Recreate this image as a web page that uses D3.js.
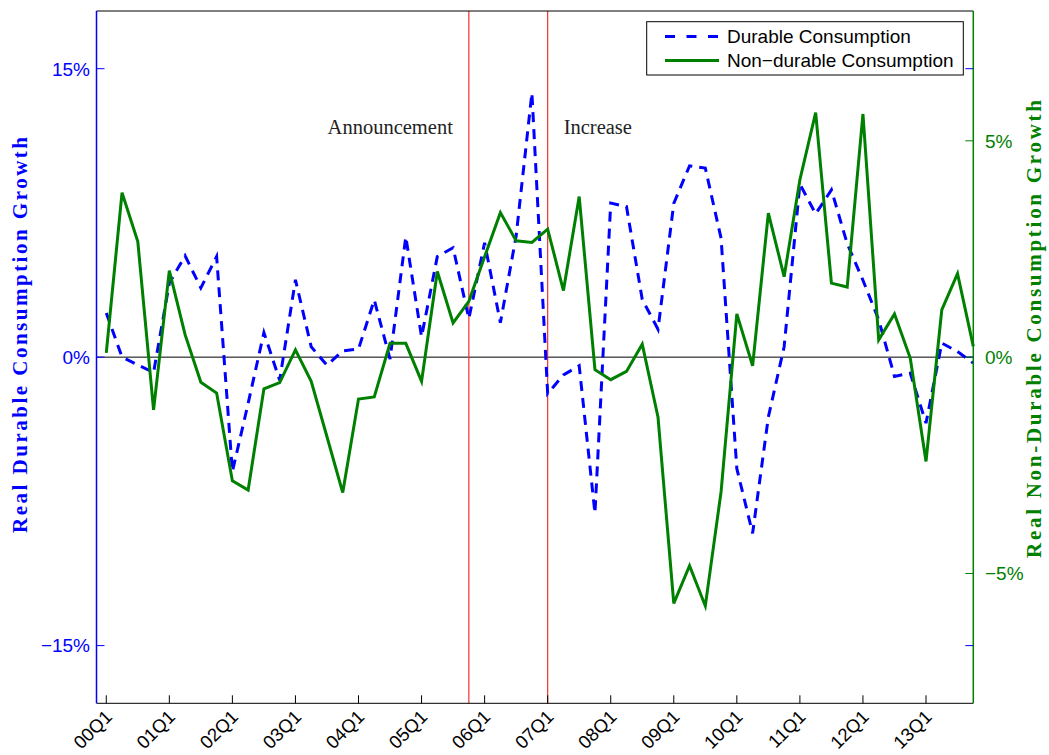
<!DOCTYPE html>
<html>
<head>
<meta charset="utf-8">
<script src="https://cdn.jsdelivr.net/npm/d3@7"></script>
<style>
	body { margin: 0; background: #fff; }
	#chart { width: 1049px; height: 755px; }
</style>
</head>
<body>
<div id="chart"></div>
<script>

// Quarterly growth rates, 2000Q1 - 2013Q4
var quarters = d3.range(56);

var durable = [
	2.3, 0.0, -0.4, -0.8, 3.85, 5.27, 3.6, 5.23, -5.95, -2.4,
	1.28, -1.2, 4.02, 0.54, -0.42, 0.33, 0.42, 2.98, -0.1, 6.26,
	1.06, 5.23, 5.69, 2.0, 5.95, 1.79, 6.3, 13.74, -1.9, -0.92,
	-0.45, -8.12, 8.01, 7.83, 3.0, 1.45, 8.0, 9.95, 9.83, 6.18,
	-5.8, -9.16, -3.11, 0.54, 9.0, 7.45, 8.7, 5.9, 4.0, 1.94,
	-1.0, -0.83, -3.43, 0.73, 0.29, -0.31
];

var nondurable = [
	0.1, 3.8, 2.67, -1.22, 2.0, 0.52, -0.58, -0.83, -2.86, -3.07,
	-0.73, -0.59, 0.17, -0.56, -1.84, -3.13, -0.97, -0.92, 0.32, 0.32,
	-0.56, 1.98, 0.79, 1.29, 2.32, 3.34, 2.69, 2.65, 2.96, 1.54,
	3.71, -0.29, -0.52, -0.33, 0.3, -1.39, -5.69, -4.82, -5.75, -3.11,
	1.0, -0.2, 3.33, 1.86, 4.1, 5.65, 1.71, 1.62, 5.62, 0.4,
	1.0, -0.02, -2.41, 1.09, 1.93, 0.25
];

var xTickIdx = [0, 4, 8, 12, 16, 20, 24, 28, 32, 36, 40, 44, 48, 52];
var xTickLabels = ["00Q1", "01Q1", "02Q1", "03Q1", "04Q1", "05Q1", "06Q1",
	"07Q1", "08Q1", "09Q1", "10Q1", "11Q1", "12Q1", "13Q1"];
var leftTicks = [-15, 0, 15];
var rightTicks = [-5, 0, 5];

var events = [
	{idx: 23, label: "Announcement", side: "left"},
	{idx: 28, label: "Increase", side: "right"}
];

var seriesNames = ["Durable Consumption", "Non\u2212durable Consumption"];

/* DEFINE DIMENSIONS AND GENERATE SVG */
var width = 1049,
	height = 755;

var plotLeft = 96.5,
	plotRight = 973.3,
	plotTop = 11,
	plotBottom = 703.3;

var svg = d3.select("#chart")
	.append("svg")
	.attr("width", width)
	.attr("height", height);

/* SCALES */
var x = d3.scaleLinear()
	.domain([-0.62, 55])
	.range([plotLeft, plotRight]);

var yL = d3.scaleLinear()
	.domain([-18, 18])
	.range([plotBottom, plotTop]);

var yR = d3.scaleLinear()
	.domain([-8, 8])
	.range([plotBottom, plotTop]);

var blue = "#0000ff",
	green = "#008000";

var fmt = d => (d < 0 ? "\u2212" + Math.abs(d) : d) + "%";

/* ZERO LINE AND EVENT LINES */
svg.append("line")
	.attr("x1", plotLeft).attr("x2", plotRight)
	.attr("y1", yL(0)).attr("y2", yL(0))
	.attr("stroke", "#000")
	.attr("stroke-width", 1);

svg.selectAll(".event")
	.data(events)
	.enter()
	.append("line")
		.attr("class", "event")
		.attr("x1", d => x(d.idx)).attr("x2", d => x(d.idx))
		.attr("y1", plotTop).attr("y2", plotBottom)
		.attr("stroke", "#f03030")
		.attr("stroke-width", 1.2);

svg.selectAll(".event-label")
	.data(events)
	.enter()
	.append("text")
		.attr("class", "event-label")
		.attr("x", d => d.side == "left" ? x(d.idx) - 16 : x(d.idx) + 16)
		.attr("y", 134)
		.attr("text-anchor", d => d.side == "left" ? "end" : "start")
		.style("font-family", "'Liberation Serif', serif")
		.style("font-size", "20.5px")
		.style("fill", "#222")
		.text(d => d.label);

/* SERIES */
var durableLine = d3.line()
	.x(d => x(d))
	.y(d => yL(durable[d]));

var nondurableLine = d3.line()
	.x(d => x(d))
	.y(d => yR(nondurable[d]));

svg.append("path")
	.datum(quarters)
	.attr("d", durableLine)
	.attr("fill", "none")
	.attr("stroke", blue)
	.attr("stroke-width", 3)
	.attr("stroke-dasharray", "10,7");

svg.append("path")
	.datum(quarters)
	.attr("d", nondurableLine)
	.attr("fill", "none")
	.attr("stroke", green)
	.attr("stroke-width", 3)
	.attr("stroke-linejoin", "miter");

/* AXES FRAME */
svg.append("line")
	.attr("x1", plotLeft).attr("x2", plotRight)
	.attr("y1", plotTop).attr("y2", plotTop)
	.attr("stroke", "#000");

svg.append("line")
	.attr("x1", plotLeft).attr("x2", plotRight)
	.attr("y1", plotBottom).attr("y2", plotBottom)
	.attr("stroke", "#000");

svg.append("line")
	.attr("x1", plotLeft).attr("x2", plotLeft)
	.attr("y1", plotTop).attr("y2", plotBottom)
	.attr("stroke", blue)
	.attr("stroke-width", 1.5);

svg.append("line")
	.attr("x1", plotRight).attr("x2", plotRight)
	.attr("y1", plotTop).attr("y2", plotBottom)
	.attr("stroke", green)
	.attr("stroke-width", 1.5);

// x ticks pointing up into the plot
svg.selectAll(".xtick")
	.data(xTickIdx)
	.enter()
	.append("line")
		.attr("x1", d => x(d)).attr("x2", d => x(d))
		.attr("y1", plotBottom).attr("y2", plotBottom - 8)
		.attr("stroke", "#000");

svg.selectAll(".xlabel")
	.data(xTickIdx)
	.enter()
	.append("text")
		.attr("transform", d => `translate(${x(d) + 7},${718}) rotate(-45)`)
		.attr("text-anchor", "end")
		.style("font-family", "'Liberation Sans', Arial, sans-serif")
		.style("font-size", "18.5px")
		.text((d, i) => xTickLabels[i]);

// left ticks (drawn on both sides, like the original)
svg.selectAll(".ltick")
	.data(leftTicks)
	.enter()
	.append("path")
		.attr("d", d => `M${plotLeft},${yL(d)}h8M${plotRight},${yL(d)}h-8`)
		.attr("stroke", blue);

svg.selectAll(".rtick")
	.data(rightTicks)
	.enter()
	.append("path")
		.attr("d", d => `M${plotRight},${yR(d)}h-8`)
		.attr("stroke", green);

svg.selectAll(".llabel")
	.data(leftTicks)
	.enter()
	.append("text")
		.attr("x", 90)
		.attr("y", d => yL(d))
		.attr("dy", "0.36em")
		.attr("text-anchor", "end")
		.style("font-family", "'Liberation Sans', Arial, sans-serif")
		.style("font-size", "19px")
		.style("fill", blue)
		.text(fmt);

svg.selectAll(".rlabel")
	.data(rightTicks)
	.enter()
	.append("text")
		.attr("x", 985)
		.attr("y", d => yR(d))
		.attr("dy", "0.36em")
		.attr("text-anchor", "start")
		.style("font-family", "'Liberation Sans', Arial, sans-serif")
		.style("font-size", "19px")
		.style("fill", green)
		.text(fmt);

/* AXIS TITLES */
svg.append("text")
	.attr("transform", "translate(27,335) rotate(-90)")
	.attr("text-anchor", "middle")
	.attr("textLength", 396)
	.attr("lengthAdjust", "spacing")
	.style("font-family", "'Liberation Serif', serif")
	.style("font-size", "21px")
	.style("font-weight", "bold")
	.style("fill", blue)
	.text("Real Durable Consumption Growth");

svg.append("text")
	.attr("transform", "translate(1041,329) rotate(-90)")
	.attr("text-anchor", "middle")
	.attr("textLength", 458)
	.attr("lengthAdjust", "spacing")
	.style("font-family", "'Liberation Serif', serif")
	.style("font-size", "21px")
	.style("font-weight", "bold")
	.style("fill", green)
	.text("Real Non-Durable Consumption Growth");

/* LEGEND */
var legend = svg.append("g");

legend.append("rect")
	.attr("x", 646.7).attr("y", 21.7)
	.attr("width", 316.6).attr("height", 53.3)
	.attr("fill", "#fff")
	.attr("stroke", "#000");

var rows = legend.selectAll(".row")
	.data(seriesNames)
	.enter()
	.append("g")
		.attr("transform", (d, i) => `translate(0,${36.5 + i * 24})`);

rows.append("line")
	.attr("x1", 665).attr("x2", 719)
	.attr("stroke", (d, i) => i == 0 ? blue : green)
	.attr("stroke-width", 3)
	.attr("stroke-dasharray", (d, i) => i == 0 ? "10,11.5" : null);

rows.append("text")
	.attr("x", 727)
	.attr("dy", "0.36em")
	.style("font-family", "'Liberation Sans', Arial, sans-serif")
	.style("font-size", "19px")
	.text(d => d);

</script>
</body>
</html>
